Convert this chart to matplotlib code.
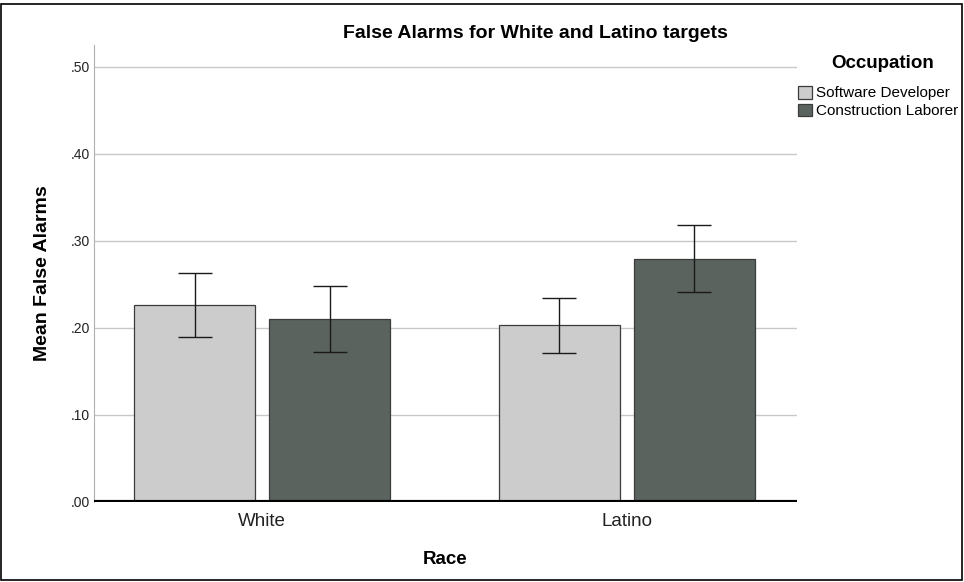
import numpy as np
import matplotlib.pyplot as plt
from matplotlib.patches import Rectangle

plt.rcParams['font.family'] = ['Liberation Sans', 'DejaVu Sans']

# data
races = ["White", "Latino"]
occupations = ["Software Developer", "Construction Laborer"]
means_sd = [0.226, 0.203]
means_cl = [0.210, 0.279]
lo_sd = [0.190, 0.171]
hi_sd = [0.263, 0.234]
lo_cl = [0.172, 0.241]
hi_cl = [0.248, 0.318]
yticks = [0.0, 0.1, 0.2, 0.3, 0.4, 0.5]
ytick_labels = [".00", ".10", ".20", ".30", ".40", ".50"]

colors = ["#cccccc", "#5a635e"]

fig = plt.figure(figsize=(9.64, 5.82), dpi=100)
ax = fig.add_axes([0.0975, 0.1375, 0.7293, 0.7852])

x = np.arange(len(races))
w = 0.332
off = 0.185

for i, (m, lo, hi) in enumerate([(means_sd, lo_sd, hi_sd), (means_cl, lo_cl, hi_cl)]):
    pos = x + (-off if i == 0 else off)
    m = np.array(m)
    err = [m - np.array(lo), np.array(hi) - m]
    ax.bar(pos, m, width=w, color=colors[i], edgecolor="#3c3c3c", linewidth=0.9,
           label=occupations[i], zorder=3)
    ax.errorbar(pos, m, yerr=err, fmt="none", ecolor="#1a1a1a", elinewidth=1.0,
                capsize=12.5, capthick=1.0, zorder=4)

ax.set_xlim(-0.4615, 1.467)
ax.set_ylim(0, 0.525)
ax.set_yticks(yticks)
ax.set_yticklabels(ytick_labels, fontsize=10, color="#222222")
ax.set_xticks(x)
ax.set_xticklabels(races, fontsize=13.5, color="#222222")
ax.tick_params(length=0, pad=3)
ax.tick_params(axis="x", pad=8)
ax.grid(axis="y", color="#c8c8c8", linewidth=1.0, zorder=0)
ax.set_axisbelow(True)
for s in ["top", "right"]:
    ax.spines[s].set_visible(False)
ax.spines["left"].set_color("#b0b0b0")
ax.spines["bottom"].set_visible(False)
ax.axhline(0, color="black", linewidth=3, zorder=5)

ax.set_ylabel("Mean False Alarms", fontsize=14, fontweight="bold", labelpad=14)
ax.set_xlabel("Race", fontsize=13.5, fontweight="bold", labelpad=15)

fig.text(535 / 964, 1 - 33 / 582, "False Alarms for White and Latino targets",
         ha="center", va="center", fontsize=14, fontweight="bold")

leg = ax.legend(loc="upper left", bbox_to_anchor=(798 / 964, 1 - 55 / 582),
                bbox_transform=fig.transFigure, frameon=False, title="Occupation",
                title_fontproperties={"weight": "bold", "size": 13.5},
                fontsize=11, handlelength=0.9, handleheight=0.9, handletextpad=0.3,
                labelspacing=0.2, borderpad=0, borderaxespad=0)
leg._legend_box.sep = 10
leg._legend_box.align = "left"
leg.get_title().set_position((33, 0))

fig.patches.append(Rectangle((0.001, 0.003), 0.997, 0.99, transform=fig.transFigure,
                             fill=False, edgecolor="black", linewidth=1.2))

fig.savefig("out.png", dpi=100)
